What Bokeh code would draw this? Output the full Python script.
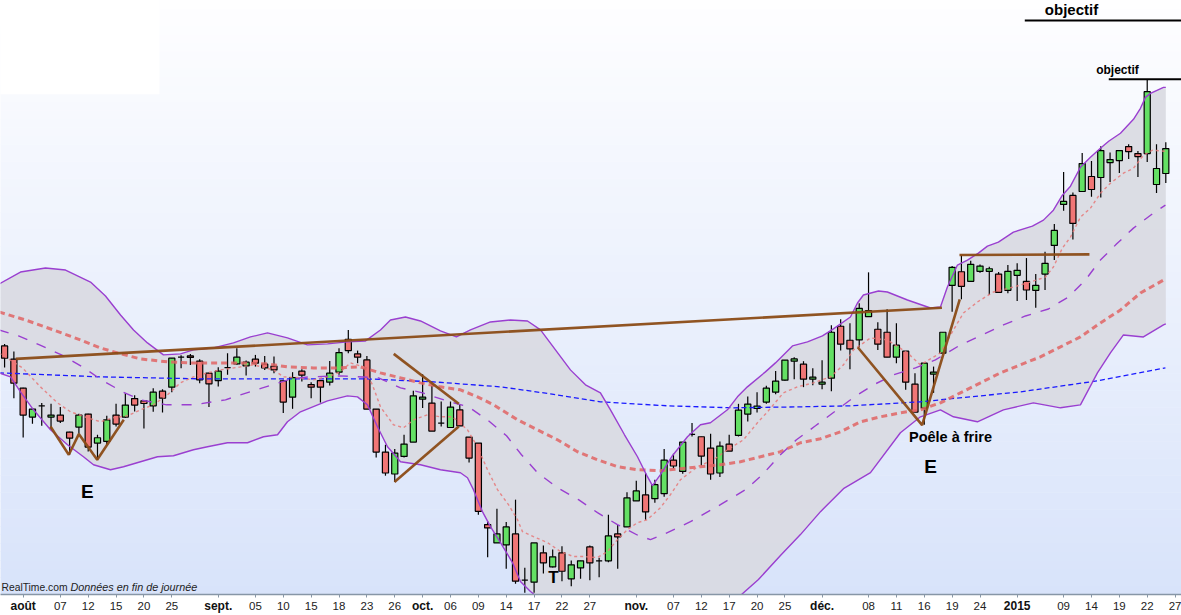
import numpy as np
import pandas as pd
from bokeh.plotting import figure
from bokeh.models import Range1d, FixedTicker, Label, ColumnDataSource, LinearAxis
from bokeh.embed import file_html
from bokeh.resources import INLINE

# ---------------- trading calendar ----------------
holidays = ["2014-12-25", "2014-12-26", "2015-01-01"]
calendar = [d.strftime("%Y-%m-%d") for d in pd.bdate_range("2014-07-30", "2015-01-27")
            if d.strftime("%Y-%m-%d") not in holidays]
pos = {d: i for i, d in enumerate(calendar)}

# ---------------- OHLC (one per trading day from 2014-07-30) ----------------
open_ = [65.40, 64.07, 61.17, 58.27, 59.40, 58.27, 58.47, 56.77, 57.27, 58.57,
         55.67, 55.83, 58.47, 58.27, 60.13, 59.90, 59.40, 60.87, 61.27, 64.27,
         64.40, 63.87, 62.67, 61.93, 63.23, 63.60, 63.40, 64.07, 63.57, 63.37,
         61.90, 60.27, 62.87, 61.53, 61.93, 61.77, 62.77, 66.07, 64.60, 64.00,
         59.07, 54.77, 52.57, 54.33, 55.77, 60.07, 59.67, 57.67, 57.23, 59.00,
         56.27, 55.67, 47.50, 45.67, 45.47, 46.57, 41.93, 41.73, 44.67, 43.27,
         44.67, 42.07, 43.17, 45.27, 43.87, 43.87, 46.57, 47.27, 49.87, 50.47,
         50.10, 50.60, 53.97, 52.83, 56.53, 56.30, 55.17, 52.67, 55.57, 56.43,
         58.57, 59.13, 59.77, 60.77, 61.97, 63.87, 63.57, 62.07, 61.57, 62.17,
         67.37, 65.97, 66.00, 68.33, 67.07, 66.77, 64.27, 64.87, 61.57, 59.17,
         62.57, 64.67, 71.47, 72.83, 71.87, 72.87, 72.87, 72.60, 70.97, 72.47,
         71.87, 70.97, 72.60, 75.47, 79.57, 80.47, 80.87, 82.37, 82.27, 83.77,
         83.97, 85.37, 84.67, 84.67, 81.57, 82.67]
high = [65.60, 64.83, 61.20, 59.15, 59.67, 59.60, 59.27, 56.80, 58.60, 58.60,
        56.50, 58.40, 59.60, 60.67, 60.47, 59.90, 61.17, 61.07, 64.20, 64.47,
        64.60, 64.07, 62.70, 63.27, 64.67, 65.17, 63.93, 64.50, 64.40, 64.33,
        62.00, 62.77, 63.07, 61.77, 61.93, 63.90, 65.17, 67.00, 64.93, 64.40,
        59.07, 55.50, 55.07, 56.50, 60.90, 62.57, 61.40, 59.83, 59.83, 59.50,
        56.27, 55.67, 47.83, 49.10, 47.77, 50.00, 43.17, 45.67, 45.40, 45.00,
        45.33, 43.90, 43.87, 45.40, 44.17, 48.50, 47.47, 50.73, 51.90, 52.67,
        52.00, 55.07, 54.60, 55.77, 57.67, 56.30, 56.60, 55.83, 56.50, 59.60,
        60.33, 60.77, 61.40, 62.90, 63.97, 64.27, 63.87, 63.17, 63.97, 67.47,
        68.07, 67.67, 69.67, 72.77, 67.77, 69.07, 67.67, 64.87, 62.67, 63.67,
        63.33, 66.77, 73.40, 74.50, 73.93, 73.55, 73.33, 72.80, 73.50, 73.67,
        74.20, 72.60, 74.83, 77.60, 82.83, 80.77, 84.73, 83.93, 85.40, 84.77,
        84.97, 85.60, 84.93, 92.10, 85.60, 85.80]
low = [63.23, 60.17, 56.23, 57.60, 57.40, 57.00, 57.67, 54.50, 56.60, 54.83,
       54.00, 55.50, 57.33, 58.20, 58.83, 57.13, 58.80, 58.73, 60.77, 63.17,
       63.50, 61.67, 59.27, 61.33, 62.50, 63.50, 62.43, 63.33, 63.00, 62.67,
       58.67, 59.10, 61.83, 60.17, 59.73, 61.43, 62.50, 64.67, 63.67, 59.07,
       54.23, 52.40, 51.77, 54.23, 55.77, 59.17, 56.87, 57.33, 57.23, 57.40,
       53.73, 48.50, 44.23, 45.67, 43.07, 41.57, 40.67, 40.67, 42.60, 43.20,
       41.83, 41.33, 42.07, 41.93, 42.23, 43.73, 43.07, 47.27, 49.87, 48.00,
       49.70, 50.30, 53.13, 52.60, 56.33, 53.40, 52.00, 52.27, 54.87, 56.33,
       57.83, 58.73, 59.60, 60.57, 61.90, 62.07, 61.27, 61.47, 61.07, 60.87,
       64.93, 63.07, 65.27, 68.33, 65.00, 64.27, 63.67, 61.00, 58.77, 57.50,
       60.70, 64.67, 68.83, 70.07, 71.87, 72.73, 70.50, 70.70, 70.67, 69.90,
       70.00, 69.23, 71.00, 74.00, 78.93, 76.07, 80.87, 80.33, 80.27, 81.83,
       82.73, 84.13, 82.33, 83.83, 80.73, 81.73]
close = [64.17, 61.67, 58.47, 59.07, 59.40, 58.47, 57.87, 56.17, 58.47, 55.27,
         56.20, 58.00, 57.57, 59.47, 59.47, 59.63, 60.77, 60.17, 64.17, 64.27,
         64.25, 62.00, 61.60, 62.87, 63.23, 64.27, 63.77, 63.67, 63.20, 63.00,
         59.77, 62.23, 62.47, 61.27, 61.27, 62.67, 64.73, 64.93, 64.27, 59.07,
         54.77, 52.67, 54.67, 55.57, 60.40, 60.27, 56.87, 57.67, 59.27, 57.40,
         54.17, 48.83, 47.17, 46.57, 47.27, 41.83, 41.93, 45.67, 43.67, 44.27,
         42.83, 43.47, 43.87, 43.67, 43.87, 46.37, 46.27, 50.17, 50.87, 48.77,
         51.50, 53.97, 53.37, 55.77, 56.53, 54.37, 52.57, 55.37, 54.87, 58.97,
         59.57, 59.37, 61.17, 61.87, 63.97, 64.10, 62.07, 62.27, 61.77, 66.77,
         65.57, 65.10, 69.17, 68.93, 65.57, 64.27, 65.47, 61.77, 58.77, 63.67,
         62.77, 66.77, 73.27, 71.37, 73.57, 73.40, 73.13, 70.77, 72.87, 72.97,
         71.00, 71.47, 73.67, 76.97, 79.87, 77.67, 83.67, 81.07, 84.97, 84.07,
         84.97, 84.87, 84.37, 90.87, 83.17, 85.17]

# ---------------- indicators (x = trading-day index) ----------------
upper_x = [-0.6, 1.71, 4.40, 6.56, 9.25, 10.86, 12.48, 13.88, 15.38, 17.10, 18.93, 20.33, 22.49,
           24.64, 26.47, 28.30, 30.45, 32.60, 34.76, 36.91, 38.85, 40.46, 41.54, 43.15, 44.77,
           46.92, 48.64, 50.15, 52.30, 54.46, 56.29, 57.69, 59.30, 60.91, 62.53, 64.14, 65.22,
           66.73, 68.13, 69.20, 69.74, 70.60, 71.89, 73.51, 74.91, 75.98, 77.81, 78.89, 79.96,
           81.90, 82.98, 84.81, 86.43, 88.04, 89.22, 91.05, 91.81, 92.45, 94.07, 95.03, 97.19,
           99.67, 100.74, 101.49, 102.57, 103.65, 104.83, 105.80, 106.98, 108.60, 110.64,
           111.83, 112.90, 113.87, 114.74, 115.81, 116.89, 117.96, 118.85, 120.12, 121.52,
           122.27, 122.81, 123.35, 124.75, 125.0]
upper_y = [71.6, 72.8, 73.2, 73.0, 71.8, 70.4, 68.5, 67.0, 65.7, 64.5, 64.6, 65.0, 65.2,
           65.7, 66.3, 66.7, 66.2, 65.5, 65.6, 65.8, 65.9, 67.0, 68.0, 68.3, 67.9,
           66.9, 66.3, 67.0, 67.8, 68.0, 67.9, 67.0, 65.0, 63.0, 61.5, 60.7, 59.0,
           56.5, 54.3, 52.3, 51.4, 52.5, 54.4, 56.3, 57.5, 57.7, 59.0, 60.3, 61.3,
           62.8, 63.7, 65.4, 65.8, 66.4, 67.1, 68.3, 69.7, 70.5, 70.9, 70.8, 70.0,
           69.2, 69.3, 71.3, 73.5, 74.0, 74.7, 75.4, 75.8, 76.8, 77.4,
           78.0, 79.0, 80.5, 81.4, 83.3, 84.3, 85.2, 85.9, 86.7, 88.1,
           89.2, 90.3, 90.7, 91.3, 91.3]
lower_x = [-0.6, 0.64, 1.71, 3.11, 4.94, 6.77, 8.49, 9.57, 11.40, 12.80, 14.63, 16.46, 18.18,
           20.33, 21.84, 23.99, 26.15, 27.87, 29.38, 30.45, 31.85, 34.76, 36.91, 37.99, 39.06,
           40.14, 41.22, 42.62, 44.77, 46.92, 49.07, 49.83, 50.47, 51.44, 52.30, 53.38, 54.67,
           55.53, 56.61, 57.69, 59.84, 64.14, 69.53, 74.91, 79.21, 81.15, 83.52, 85.67, 87.83,
           90.30, 93.21, 96.43, 98.59, 100.74, 102.14, 104.72, 107.52, 110.75, 113.66, 115.81,
           117.64, 119.04, 120.44, 122.59, 124.75, 125.0]
lower_y = [62.7, 62.3, 60.8, 59.0, 57.0, 55.5, 54.3, 53.5, 53.0, 53.3, 53.8, 54.3, 54.4,
           55.0, 55.3, 55.7, 55.7, 56.3, 56.5, 57.8, 58.8, 59.9, 60.4, 60.3, 59.5,
           57.3, 55.3, 53.8, 53.5, 53.0, 52.7, 52.2, 51.0, 48.8, 47.3, 45.7, 43.7,
           41.8, 40.8, 40.0, 38.5, 36.0, 35.0, 37.5, 40.4, 42.0, 44.4, 46.5, 48.8,
           51.1, 52.7, 56.7, 58.3, 59.0, 58.3, 57.8, 59.0, 59.7, 59.2, 59.5,
           62.7, 64.7, 66.5, 66.3, 67.5, 67.6]
mid_x = [-0.6, 1.50, 3.76, 6.12, 8.39, 10.43, 12.69, 14.63, 17.43, 20.33, 23.78, 25.39, 27.76,
         30.88, 32.82, 36.16, 40.25, 42.62, 44.99, 47.57, 49.94, 52.09, 54.03, 55.64, 57.36,
         59.51, 61.78, 63.82, 65.97, 68.23, 69.53, 71.14, 73.83, 77.06, 79.75, 81.58, 83.41,
         85.24, 87.29, 89.33, 91.49, 93.53, 95.68, 98.05, 100.20, 102.89, 105.26, 107.52,
         109.89, 112.37, 114.52, 116.35, 117.96, 119.69, 121.52, 123.67, 124.96]
mid_y = [67.0, 66.4, 65.5, 64.5, 63.3, 62.0, 60.8, 60.0, 59.5, 59.5, 60.0, 60.5, 61.2,
         62.1, 62.3, 62.4, 62.2, 61.2, 60.7, 59.9, 59.3, 57.9, 56.4, 54.5, 52.7,
         51.2, 50.0, 48.7, 47.5, 46.4, 46.0, 46.6, 47.8, 49.5, 51.0, 52.5, 54.4,
         56.0, 57.4, 58.8, 60.3, 61.5, 62.5, 63.2, 64.0, 65.5, 66.5, 67.5,
         68.4, 69.1, 70.3, 72.0, 74.0, 75.6, 77.2, 78.7, 79.5]
ma_short_x = [-0.6, 1.93, 3.86, 5.69, 7.09, 8.92, 10.32, 11.72, 13.23, 14.63, 16.03, 17.53, 18.93,
              20.33, 21.84, 23.24, 25.39, 26.79, 28.94, 30.02, 31.85, 33.25, 34.76, 36.16, 37.23,
              38.63, 39.60, 40.46, 41.86, 42.94, 44.04, 45.52, 46.92, 48.21, 48.86, 49.83, 50.90,
              51.98, 53.06, 54.24, 55.21, 55.75, 56.93, 58.44, 59.84, 61.24, 62.31, 63.82, 64.90,
              65.97, 67.05, 68.13, 69.20, 70.60, 71.68, 72.76, 74.59, 76.31, 77.81, 79.54, 81.04,
              82.12, 83.84, 85.35, 87.07, 88.90, 90.30, 91.38, 93.21, 95.03, 97.19, 98.59, 100.74,
              102.14, 103.22, 104.72, 106.44, 108.60, 110.43, 112.04, 112.90, 113.87, 114.74,
              115.81, 116.89, 117.96, 119.04, 120.44, 121.52, 122.59, 123.56, 124.96]
ma_short_y = [64.7, 63.2, 61.3, 59.7, 58.8, 58.2, 57.8, 58.2, 58.4, 59.0, 59.5, 60.5, 61.7,
              62.3, 62.7, 63.0, 63.3, 63.5, 63.0, 62.3, 62.2, 62.0, 62.3, 62.8, 63.7,
              63.3, 61.5, 59.3, 57.5, 57.2, 58.0, 58.5, 58.3, 58.3, 57.8, 57.0, 55.3,
              53.0, 51.0, 49.5, 48.0, 46.8, 46.3, 45.7, 44.8, 44.3, 44.3, 44.2, 44.8,
              46.0, 47.0, 47.7, 48.0, 49.2, 50.5, 52.0, 53.3, 54.0, 55.0, 56.0, 57.7,
              58.8, 60.7, 61.3, 61.7, 62.3, 63.5, 65.0, 66.2, 66.0, 64.7, 63.5, 64.7,
              67.0, 68.7, 69.8, 70.8, 71.3, 71.8, 72.3, 73.3, 75.2, 76.3,
              78.3, 79.2, 80.7, 81.7, 82.7, 83.2, 84.5, 85.0, 84.9]
ma_mid_x = [-0.6, 2.25, 5.26, 8.17, 10.32, 12.15, 14.63, 17.53, 20.01, 22.92, 25.39, 28.30,
            30.45, 33.25, 36.16, 38.31, 40.46, 42.62, 44.77, 46.92, 49.07, 50.90, 52.63, 55.21,
            57.36, 59.51, 61.67, 63.82, 65.97, 68.13, 70.60, 72.76, 74.91, 77.06, 79.21, 81.37,
            83.52, 85.67, 87.83, 89.98, 92.13, 94.28, 96.43, 98.59, 100.74, 102.89, 105.05,
            107.20, 109.35, 111.50, 113.66, 115.81, 117.96, 120.12, 122.27, 124.96]
ma_mid_y = [68.8, 68.0, 67.0, 66.0, 65.2, 64.7, 64.1, 63.8, 63.7, 63.7, 63.7, 63.6,
            63.3, 63.2, 63.2, 63.3, 62.7, 62.2, 61.7, 61.3, 61.0, 60.3, 59.5, 58.0,
            57.0, 56.0, 54.8, 54.0, 53.3, 53.0, 52.9, 53.1, 53.3, 53.5, 53.8, 54.3,
            54.8, 55.7, 56.1, 56.8, 57.8, 58.3, 58.7, 59.0, 59.7, 60.7, 61.7,
            62.7, 63.5, 64.3, 65.3, 66.3, 67.7, 69.0, 70.7, 72.1]
ma_long_x = [-0.6, 10.32, 21.09, 31.85, 39.06, 46.17, 53.38, 58.76, 64.14, 71.36, 78.46,
             85.67, 91.05, 98.59, 109.35, 117.64, 124.96]
ma_long_y = [62.7, 62.3, 62.1, 62.1, 62.1, 61.8, 61.3, 60.6, 59.8, 59.4, 59.2,
             59.3, 59.4, 59.8, 60.8, 61.9, 63.2]

# ---------------- chart patterns drawn by the analyst ----------------
resist_x = [1.2, 100.9];        resist_y = [64.1, 69.23]
flag_x = [102.79, 116.78];      flag_y = [74.5, 74.57]
w_x = [4.94, 6.91, 7.99, 9.97, 12.83]; w_y = [57.33, 54.5, 56.57, 54.0, 58.0]
tri_top_x = [41.89, 48.89];     tri_top_y = [64.6, 59.6]
tri_bot_x = [41.97, 48.89];     tri_bot_y = [51.77, 57.33]
pan_x = [91.84, 98.77, 102.82]; pan_y = [65.27, 57.47, 70.07]
target1_x = [109.82, 128.0];    target1_y = [98.0, 98.0]
target2_x = [118.86, 128.0];    target2_y = [92.1, 92.1]

ann_text = ["objectif", "objectif", "Poêle à frire", "E", "E", "T"]
ann_x = [114.85, 119.8, 101.82, 8.92, 99.67, 59.08]
ann_y = [99.05, 93.0, 56.3, 50.8, 53.3, 42.2]
ann_size = ["15px", "12px", "14.5px", "19px", "19px", "17px"]

tick_dates = ["2014-08-01", "2014-08-07", "2014-08-12", "2014-08-15", "2014-08-20", "2014-08-25",
              "2014-09-01", "2014-09-05", "2014-09-10", "2014-09-15", "2014-09-18", "2014-09-23",
              "2014-09-26", "2014-10-01", "2014-10-06", "2014-10-09", "2014-10-14", "2014-10-17",
              "2014-10-22", "2014-10-27", "2014-11-03", "2014-11-07", "2014-11-12", "2014-11-17",
              "2014-11-20", "2014-11-25", "2014-12-01", "2014-12-08", "2014-12-11", "2014-12-16",
              "2014-12-19", "2014-12-24", "2015-01-02", "2015-01-09", "2015-01-14", "2015-01-19",
              "2015-01-22", "2015-01-27"]
tick_labels = ["août", "07", "12", "15", "20", "25",
               "sept.", "05", "10", "15", "18", "23",
               "26", "oct.", "06", "09", "14", "17",
               "22", "27", "nov.", "07", "12", "17",
               "20", "25", "déc.", "08", "11", "16",
               "19", "24", "2015", "09", "14", "19",
               "22", "27"]
month_labels = {"août", "sept.", "oct.", "nov.", "déc.", "2015"}

FONT = "Liberation Sans"
Y0, Y1 = 40.5, 100.0

p = figure(width=1181, height=615, output_backend="svg", toolbar_location=None,
           x_range=Range1d(-0.44, 126.69), y_range=Range1d(Y0, Y1),
           y_axis_location=None, min_border_left=0, min_border_right=0,
           min_border_top=0, min_border_bottom=0)
p.background_fill_color = "white"
p.border_fill_color = "white"
p.outline_line_color = None
p.grid.visible = False

# background vertical gradient
nb = 70
edges = np.linspace(Y0, Y1, nb + 1)
top_c = np.array([254, 254, 255]); bot_c = np.array([216, 227, 250])
cols = []
for k in range(nb):
    t = (k + 0.5) / nb
    c = bot_c + (top_c - bot_c) * t
    cols.append("#%02x%02x%02x" % tuple(int(round(v)) for v in c))
p.quad(left=-2, right=130, bottom=edges[:-1], top=edges[1:] + 0.05,
       fill_color=cols, line_color=None)
# faint white panel in the top-left corner
p.quad(left=-2, right=16.67, bottom=90.6, top=101, fill_color="white", line_color=None)

# Bollinger fill
p.patch(x=upper_x + lower_x[::-1], y=upper_y + lower_y[::-1],
        fill_color="#d9dae2", fill_alpha=0.92, line_color=None)

# candles
n = len(open_)
src = ColumnDataSource(dict(
    x=list(range(n)), o=open_, h=high, l=low, c=close,
    top=[max(a, b) for a, b in zip(open_, close)],
    bot=[min(a, b) for a, b in zip(open_, close)],
    col=["#64e064" if c >= o else "#f07676" for o, c in zip(open_, close)]))
p.segment(x0="x", y0="l", x1="x", y1="h", source=src, line_color="black", line_width=1.2)
p.vbar(x="x", width=0.66, top="top", bottom="bot", source=src,
       fill_color="col", line_color="black", line_width=1.2)

# indicator lines
p.line(ma_long_x, ma_long_y, line_color="#1a1aff", line_width=1.3, line_dash="5 3")
p.line(ma_mid_x, ma_mid_y, line_color="#e06464", line_width=3, line_dash="6 4", line_alpha=0.85)
p.line(ma_short_x, ma_short_y, line_color="#e67878", line_width=1.4, line_dash="3 3", line_alpha=0.85)
p.line(mid_x, mid_y, line_color="#9a3fd0", line_width=1.4, line_dash="10 10")
p.line(upper_x, upper_y, line_color="#9a3fd0", line_width=1.4)
p.line(lower_x, lower_y, line_color="#9a3fd0", line_width=1.4)

# analyst drawings
BROWN = "#8b4b16"
for xs, ys in [(resist_x, resist_y), (flag_x, flag_y), (w_x, w_y), (tri_top_x, tri_top_y),
               (tri_bot_x, tri_bot_y), (pan_x, pan_y)]:
    p.line(xs, ys, line_color=BROWN, line_width=2.6, line_alpha=0.95)
p.line(target1_x, target1_y, line_color="black", line_width=2)
p.line(target2_x, target2_y, line_color="black", line_width=2)

for t, x, y, s in zip(ann_text, ann_x, ann_y, ann_size):
    p.add_layout(Label(x=x, y=y, text=t, text_font=FONT, text_font_size=s,
                       text_font_style="bold", text_color="black",
                       text_align="center", text_baseline="middle"))

# watermark
p.add_layout(Label(x=1, y=2, x_units="screen", y_units="screen", text="RealTime.com",
                   text_font=FONT, text_font_size="10.3px", text_color="#222",
                   text_baseline="bottom"))
p.add_layout(Label(x=70, y=2, x_units="screen", y_units="screen",
                   text="Données en fin de journée", text_font=FONT, text_font_size="10.8px",
                   text_font_style="italic", text_color="#222", text_baseline="bottom"))

# x axis: day numbers (normal weight)
tick_idx = [pos[d] for d in tick_dates]
ax = p.xaxis[0]
ax.ticker = FixedTicker(ticks=tick_idx)
ax.major_label_overrides = {i: ("" if l in month_labels else l) for i, l in zip(tick_idx, tick_labels)}
ax.major_label_text_font = FONT
ax.major_label_text_font_size = "11.5px"
ax.major_label_text_color = "#222"
ax.major_label_standoff = 4
ax.major_tick_in = 0
ax.major_tick_out = 3
ax.minor_tick_line_color = None
ax.axis_line_color = "#8796a6"
ax.axis_line_width = 1.5
ax.major_tick_line_color = "#8796a6"

# second axis carrying the bold month names, drawn over the first one's label row
month_idx = [i for i, l in zip(tick_idx, tick_labels) if l in month_labels]
month_ax = LinearAxis(ticker=FixedTicker(ticks=month_idx),
                      major_label_overrides={i: l for i, l in zip(tick_idx, tick_labels) if l in month_labels},
                      major_label_text_font=FONT, major_label_text_font_size="12px",
                      major_label_text_font_style="bold", major_label_text_color="#111",
                      axis_line_color=None, major_tick_line_color=None, minor_tick_line_color=None,
                      major_tick_out=0, major_tick_in=0, major_label_standoff=-14)
p.add_layout(month_ax, "below")

open("out.html", "w").write(file_html(p, INLINE))
